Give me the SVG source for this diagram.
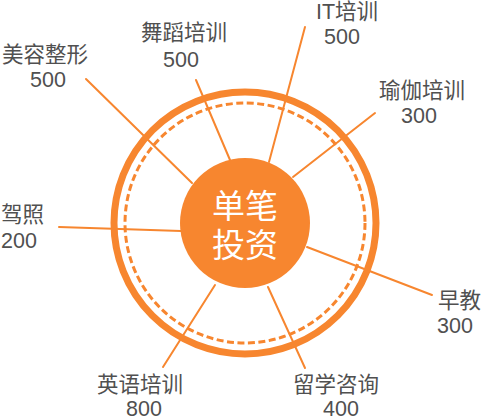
<svg xmlns="http://www.w3.org/2000/svg" width="482" height="420" viewBox="0 0 482 420">
<style>
.ln{stroke:#F7862F;stroke-width:2;fill:none;stroke-linecap:round}
.lb{font-family:"Liberation Sans","Noto Sans CJK SC",sans-serif;font-size:21.5px;fill:#505050}
.c{text-anchor:middle}
.hub{font-family:"Noto Sans CJK SC",sans-serif;font-size:33px;fill:#ffffff;text-anchor:middle}
</style>
<g id="connectors">
<line class="ln" x1="86" y1="79" x2="192" y2="183"/>
<line class="ln" x1="196" y1="80" x2="230" y2="160"/>
<line class="ln" x1="305" y1="27" x2="269" y2="162"/>
<line class="ln" x1="375" y1="113" x2="293" y2="177"/>
<line class="ln" x1="59" y1="227" x2="181" y2="231"/>
<line class="ln" x1="432" y1="295" x2="307" y2="247"/>
<line class="ln" x1="163" y1="367" x2="215" y2="285"/>
<line class="ln" x1="305" y1="368" x2="268" y2="287"/>
</g>
<g id="rings">
<circle cx="245" cy="223" r="131" fill="none" stroke="#F7862F" stroke-width="7"/>
<circle cx="245" cy="223" r="120" fill="none" stroke="#F7862F" stroke-width="3" stroke-dasharray="7 3.5"/>
</g>
<g id="hub">
<circle cx="245" cy="223" r="65" fill="#F7862F"/>
<text class="hub" x="245" y="218">单笔</text>
<text class="hub" x="245" y="257">投资</text>
</g>
<g id="n-meirong"><text class="lb c" x="45" y="62">美容整形</text><text class="lb c" x="48" y="87">500</text></g>
<g id="n-wudao"><text class="lb c" x="184" y="40">舞蹈培训</text><text class="lb c" x="181" y="67">500</text></g>
<g id="n-it"><text class="lb c" x="347" y="19">IT培训</text><text class="lb c" x="342" y="44">500</text></g>
<g id="n-yujia"><text class="lb c" x="422" y="98">瑜伽培训</text><text class="lb c" x="419" y="123">300</text></g>
<g id="n-jiazhao"><text class="lb" x="1" y="222">驾照</text><text class="lb" x="1" y="248">200</text></g>
<g id="n-zaojiao"><text class="lb" x="438" y="308">早教</text><text class="lb" x="437" y="333">300</text></g>
<g id="n-yingyu"><text class="lb c" x="140" y="392">英语培训</text><text class="lb c" x="144" y="416">800</text></g>
<g id="n-liuxue"><text class="lb c" x="336" y="392">留学咨询</text><text class="lb c" x="341" y="416">400</text></g>
</svg>
